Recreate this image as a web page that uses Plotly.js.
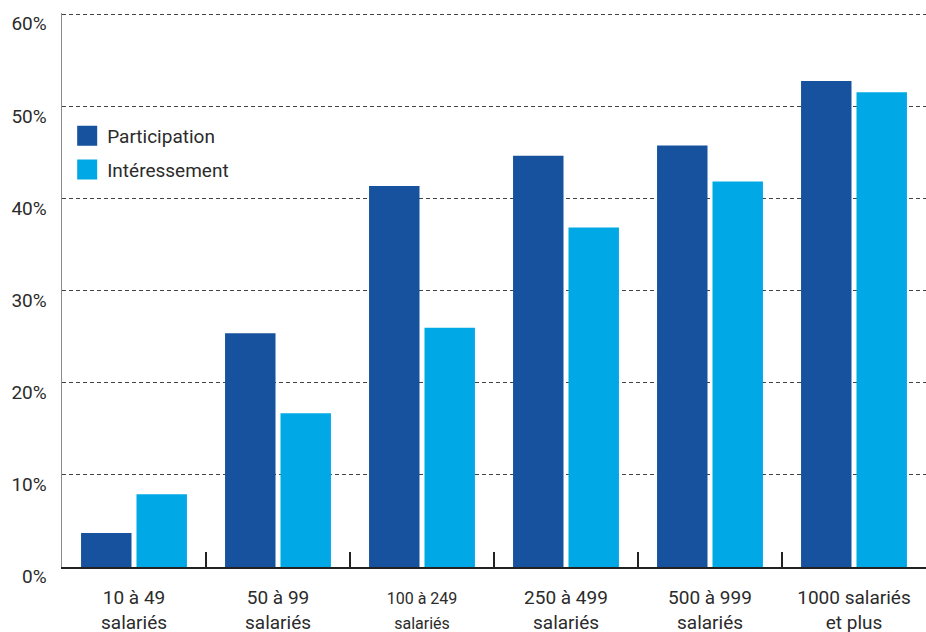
<!DOCTYPE html>
<html>
<head>
<meta charset="utf-8">
<script src="https://cdn.plot.ly/plotly-3.0.1.min.js"></script>
<style>
  html, body { margin: 0; padding: 0; background: #ffffff; }
  #chart { width: 926px; height: 632px; }
</style>
</head>
<body>
<div id="chart"></div>
<script>
// Share of companies offering each scheme, by company size (%)
const categories = [
  "10 à 49<br>salariés",
  "50 à 99<br>salariés",
  "<span style=\"font-size:16px\">100 à 249<br>salariés</span>",
  "250 à 499<br>salariés",
  "500 à 999<br>salariés",
  "1000 salariés<br>et plus"
];
const participation = [3.7, 25.4, 41.4, 44.7, 45.8, 52.8];
const interessement = [7.9, 16.7, 26.0, 36.9, 41.9, 51.6];
const seriesNames = ["Participation", "Intéressement"];
const yTicks = [0, 10, 20, 30, 40, 50, 60];
const yTickLabels = ["0%", "10%", "20%", "30%", "40%", "50%", "60%"];

const darkBlue = "#16529d";
const lightBlue = "#00a9e6";
const textColor = "#2b2b2b";
const fontFamily = "Roboto, 'Open Sans', sans-serif";

const traces = [
  {
    type: "bar", x: categories, y: participation, name: seriesNames[0],
    marker: { color: darkBlue }, showlegend: false, hoverinfo: "skip"
  },
  {
    type: "bar", x: categories, y: interessement, name: seriesNames[1],
    marker: { color: lightBlue }, showlegend: false, hoverinfo: "skip"
  },
  // legend-only entries with large square swatches
  {
    type: "scatter", mode: "markers", x: [null], y: [null], name: seriesNames[0],
    legendgroup: "a",
    marker: { symbol: "square", size: 16, color: darkBlue, line: { width: 4, color: darkBlue } }
  },
  {
    type: "scatter", mode: "markers", x: [null], y: [null], name: seriesNames[1],
    legendgroup: "b",
    marker: { symbol: "square", size: 16, color: lightBlue, line: { width: 4, color: lightBlue } }
  }
];

const layout = {
  width: 926,
  height: 632,
  margin: { l: 62, r: 0, t: 13, b: 65 },
  paper_bgcolor: "#ffffff",
  plot_bgcolor: "#ffffff",
  font: { family: fontFamily, size: 19, color: textColor },
  barmode: "group",
  bargap: 0.23,
  bargroupgap: 0.09,
  showlegend: true,
  legend: {
    x: 0.006, y: 0.8125, xanchor: "left", yanchor: "top",
    bgcolor: "rgba(0,0,0,0)",
    font: { family: fontFamily, size: 19, color: textColor },
    tracegroupgap: 6
  },
  xaxis: {
    type: "category",
    categoryorder: "array",
    categoryarray: categories,
    showgrid: false,
    zeroline: false,
    showline: true,
    linecolor: "#222222",
    linewidth: 2,
    ticks: "inside",
    tickson: "boundaries",
    ticklen: 15,
    tickwidth: 2,
    tickcolor: "#222222",
    ticklabelstandoff: 12,
    tickfont: { family: fontFamily, size: 19, color: textColor },
    fixedrange: true
  },
  yaxis: {
    range: [0, 60.2],
    tickvals: yTicks,
    ticktext: yTickLabels,
    showgrid: true,
    gridcolor: "#444444",
    gridwidth: 1,
    griddash: "4px,3px",
    zeroline: false,
    showline: true,
    linecolor: "#8a8a8a",
    linewidth: 1.5,
    ticks: "",
    ticklabelstandoff: 10,
    ticklabelshift: 9,
    tickfont: { family: fontFamily, size: 19, color: textColor },
    fixedrange: true
  }
};

Plotly.newPlot("chart", traces, layout, { displayModeBar: false, staticPlot: true });
</script>
</body>
</html>
